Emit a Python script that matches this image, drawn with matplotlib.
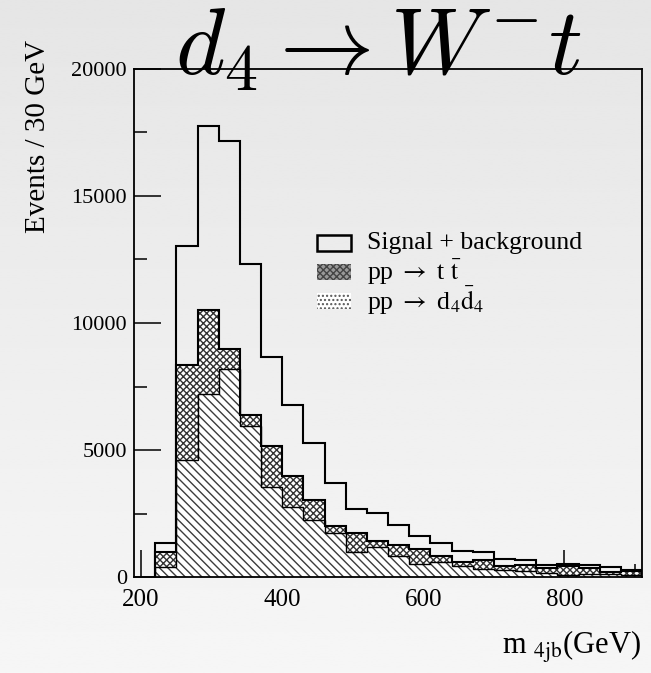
import numpy as np
import matplotlib
matplotlib.use("Agg")
import matplotlib.pyplot as plt
from matplotlib.ticker import MultipleLocator
from matplotlib.patches import Rectangle

plt.rcParams['font.family'] = ['Liberation Serif', 'DejaVu Serif']
plt.rcParams['mathtext.fontset'] = 'stix'
plt.rcParams['hatch.linewidth'] = 1.0

# histogram data, 30 GeV bins from 220 to 910 GeV
bin_edges = np.arange(220, 911, 30)
total = [1340, 13040, 17770, 17150, 12310, 8670, 6760, 5260, 3710, 2690, 2520, 2060,
         1610, 1340, 1010, 980, 710, 670, 460, 500, 460, 394, 262]
ttbar_stack = [985, 8330, 10520, 8960, 6365, 5140, 3990, 3020, 1995, 1730, 1420, 1250,
               1115, 815, 590, 680, 420, 460, 370, 420, 370, 200, 220]
d4d4 = [394, 4590, 7190, 8180, 5945, 3545, 2755, 2250, 1730, 985, 1180, 815,
        525, 590, 430, 330, 290, 236, 170, 92, 105, 131, 92]

legend_labels = ["Signal + background",
                 r"pp $\rightarrow$ t $\bar{\mathrm{t}}$",
                 r"pp $\rightarrow$ d$_4\bar{\mathrm{d}}_4$"]

##############################################################
fig = plt.figure(figsize=(6.51, 6.73), dpi=100)

# light grey gradient background
bg = fig.add_axes([0, 0, 1, 1], zorder=-10)
grad = np.linspace(0.90, 0.965, 256).reshape(-1, 1)
bg.imshow(grad, aspect='auto', cmap='gray', vmin=0, vmax=1, extent=[0, 1, 0, 1])
bg.axis('off')

ax = fig.add_axes([134/651, 1 - 577/673, (642-134)/651, (577-69)/673])
ax.set_facecolor('none')
centers = (bin_edges[:-1] + bin_edges[1:]) / 2

ax.bar(centers, ttbar_stack, width=30, color='white', edgecolor='#333333',
       hatch='xxxxx', linewidth=0, zorder=1)
ax.bar(centers, d4d4, width=30, color='white', edgecolor='#3c3c3c',
       hatch='\\\\\\\\', linewidth=0, zorder=1.1)
ax.stairs(ttbar_stack, bin_edges, color='black', linewidth=1.5, zorder=2)
ax.stairs(d4d4, bin_edges, color='black', linewidth=1.0, zorder=2)
ax.stairs(total, bin_edges, color='black', linewidth=1.5, zorder=2.1)

ax.set_xlim(190, 910)
ax.set_ylim(0, 20000)
ax.set_axisbelow(True)
ax.xaxis.set_major_locator(MultipleLocator(200))
ax.xaxis.set_minor_locator(MultipleLocator(50))
ax.yaxis.set_major_locator(MultipleLocator(5000))
ax.yaxis.set_minor_locator(MultipleLocator(2500))
ax.tick_params(which='both', direction='in', width=1.1, color='black')
ax.tick_params(which='major', length=19.5)
ax.tick_params(which='minor', length=9.5)
ax.tick_params(axis='x', which='major', labelsize=18, pad=9)
ax.tick_params(axis='y', which='major', labelsize=16, pad=5)
for s in ax.spines.values():
    s.set_linewidth(1.3)

# legend drawn by hand, ROOT style
lx, ly, dy = 0.36, 0.657, 0.057
bw, bh = 0.068, 0.032
ax.add_patch(Rectangle((lx, ly - bh/2), bw, bh, transform=ax.transAxes,
                       facecolor='none', edgecolor='black', linewidth=1.8, zorder=5))
ax.add_patch(Rectangle((lx, ly - dy - bh/2), bw, bh, transform=ax.transAxes,
                       facecolor='#999999', edgecolor='#444444', hatch='xxxxx',
                       linewidth=0, zorder=5))
ax.add_patch(Rectangle((lx, ly - 2*dy - bh/2), bw, bh, transform=ax.transAxes,
                       facecolor='white', edgecolor='#555555', hatch='....',
                       linewidth=0, zorder=5))
for i, lab in enumerate(legend_labels):
    ax.text(lx + 0.098, ly - i*dy, lab, transform=ax.transAxes, fontsize=18.5,
            va='center', ha='left', zorder=5)

fig.text(38/651, 1 - 40/673, "Events / 30 GeV", rotation=90, fontsize=21,
         ha='center', va='top')
fig.text(641/651, 1 - 654/673, r"m ${}_{\mathrm{4jb}}$(GeV)", fontsize=22,
         ha='right', va='baseline')
fig.text(378/651, 1 - 75/673, r"$d_4 \rightarrow W^{-}t$", fontsize=68,
         ha='center', va='baseline', math_fontfamily='cm')

fig.savefig("out.png", dpi=100)
